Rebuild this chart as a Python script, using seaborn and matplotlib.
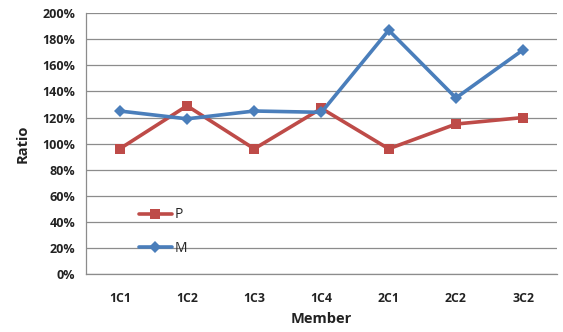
import matplotlib
matplotlib.use("Agg")
import matplotlib.pyplot as plt
import seaborn as sns
import pandas as pd
from matplotlib.ticker import PercentFormatter

members = ["1C1", "1C2", "1C3", "1C4", "2C1", "2C2", "3C2"]
p_ratio = [96, 129, 96, 127, 96, 115, 120]
m_ratio = [125, 119, 125, 124, 187, 135, 172]
y_ticks = list(range(0, 201, 20))

df = pd.concat([
    pd.DataFrame({"Member": members, "Ratio": p_ratio, "Series": "P"}),
    pd.DataFrame({"Member": members, "Ratio": m_ratio, "Series": "M"}),
])
df["x"] = df["Member"].map({m: i for i, m in enumerate(members)})

sns.set_theme(style="white")
plt.rcParams["font.family"] = ["Open Sans", "DejaVu Sans"]

fig = plt.figure(figsize=(5.63, 3.32), dpi=100)
ax = fig.add_axes([0.153, 0.175, 0.836, 0.785])

palette = {"P": "#BE4B48", "M": "#4A7EBB"}
markers = {"P": "s", "M": "D"}
sizes = {"P": 7.5, "M": 6}

for name in ["P", "M"]:
    sub = df[df["Series"] == name]
    sns.lineplot(data=sub, x="x", y="Ratio", ax=ax, color=palette[name],
                 marker=markers[name], markersize=sizes[name],
                 markeredgewidth=0, linewidth=2.6, label=name, zorder=3)

ax.set_xlim(-0.5, len(members) - 0.5)
ax.set_ylim(0, 200)
ax.set_xticks(range(len(members)))
ax.set_xticklabels(members)
ax.set_yticks(y_ticks)
ax.yaxis.set_major_formatter(PercentFormatter(decimals=0))

ax.grid(axis="y", color="#8c8c8c", linewidth=0.9)
ax.set_axisbelow(True)
for s in ["top", "right"]:
    ax.spines[s].set_visible(False)
for s in ["left", "bottom"]:
    ax.spines[s].set_color("#8c8c8c")
    ax.spines[s].set_linewidth(0.9)

ax.tick_params(axis="y", which="major", direction="out", length=4,
               color="#8c8c8c", width=0.9, pad=4, labelsize=9)
ax.tick_params(axis="x", length=0, pad=13, labelsize=8.8)
for lab in ax.get_xticklabels() + ax.get_yticklabels():
    lab.set_fontweight("bold")
    lab.set_color("#222222")

ax.set_xlabel("Member", fontsize=10.5, fontweight="bold", color="#222222", labelpad=5)
ax.set_ylabel("Ratio", fontsize=10.5, fontweight="bold", color="#222222", labelpad=9)

ax.legend(loc="lower left", bbox_to_anchor=(0.1, 0.047), frameon=False,
          fontsize=10, handlelength=2.4, handletextpad=0.15, labelspacing=1.34,
          borderaxespad=0)

fig.savefig("out.png", dpi=100)
